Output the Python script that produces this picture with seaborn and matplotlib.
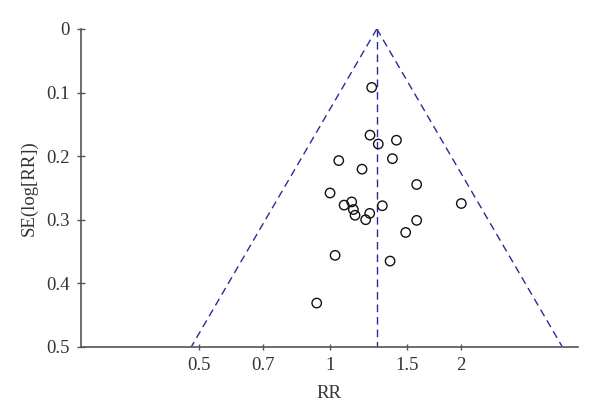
import numpy as np
import pandas as pd
import matplotlib
matplotlib.use("Agg")
import matplotlib.pyplot as plt
import seaborn as sns
from matplotlib.ticker import FixedLocator, NullLocator

rr = [1.246, 1.235, 1.29, 1.42, 1.047, 1.39, 1.184, 1.58, 1.0, 2.0, 1.121,
      1.077, 1.318, 1.131, 1.141, 1.233, 1.207, 1.58, 1.491, 1.027, 1.373, 0.932]
se = [0.092, 0.167, 0.181, 0.175, 0.207, 0.204, 0.2205, 0.2446, 0.258, 0.2745, 0.272,
      0.277, 0.278, 0.284, 0.293, 0.290, 0.300, 0.301, 0.320, 0.356, 0.365, 0.431]
pooled_rr = 1.28
se_max = 0.5
x_ticks = [0.5, 0.7, 1, 1.5, 2]
x_tick_labels = ["0.5", "0.7", "1", "1.5", "2"]
y_ticks = [0, 0.1, 0.2, 0.3, 0.4, 0.5]
y_tick_labels = ["0", "0.1", "0.2", "0.3", "0.4", "0.5"]

sns.set_theme(style="white")
plt.rcParams["font.family"] = ["Liberation Serif", "DejaVu Serif"]

fig = plt.figure(figsize=(6, 4.19), dpi=100)
ax = fig.add_axes([0.1345, 0.172, 0.8285, 0.759])

df = pd.DataFrame({"RR": rr, "SE": se})

line_color = "#2a2a9c"
dash = (0, (5.5, 3.5))
se_line = np.array([0, se_max])
ax.plot([pooled_rr, pooled_rr], se_line, color=line_color, lw=1.0, ls=dash)
ax.plot(pooled_rr * np.exp(-1.96 * se_line), se_line, color=line_color, lw=1.0, ls=dash)
ax.plot(pooled_rr * np.exp(1.96 * se_line), se_line, color=line_color, lw=1.0, ls=dash)

sns.scatterplot(data=df, x="RR", y="SE", ax=ax, marker="o", s=46,
                facecolor="none", edgecolor="#111111", linewidth=1.0, zorder=3)

ax.set_xscale("log")
ax.set_xlim(0.268, 3.70)
ax.set_ylim(0.5, 0)
ax.xaxis.set_major_locator(FixedLocator(x_ticks))
ax.xaxis.set_minor_locator(NullLocator())
ax.set_xticklabels(x_tick_labels)
ax.set_yticks(y_ticks)
ax.set_yticklabels(y_tick_labels)

for s in ["top", "right"]:
    ax.spines[s].set_visible(False)
for s in ["left", "bottom"]:
    ax.spines[s].set_color("#555555")
    ax.spines[s].set_linewidth(1.2)

ax.tick_params(axis="y", direction="inout", length=6, width=1, color="#555555",
               labelsize=13.5, labelcolor="#333333", pad=5, left=True)
ax.tick_params(axis="x", direction="inout", length=4.5, width=1, color="#555555",
               labelsize=13.5, labelcolor="#333333", pad=5, bottom=True)

ax.set_xlabel("RR", fontsize=13.5, color="#333333", labelpad=8)
ax.set_ylabel("SE(log[RR])", fontsize=13.5, color="#333333", labelpad=6)

fig.savefig("out.png", dpi=100, facecolor="white")
